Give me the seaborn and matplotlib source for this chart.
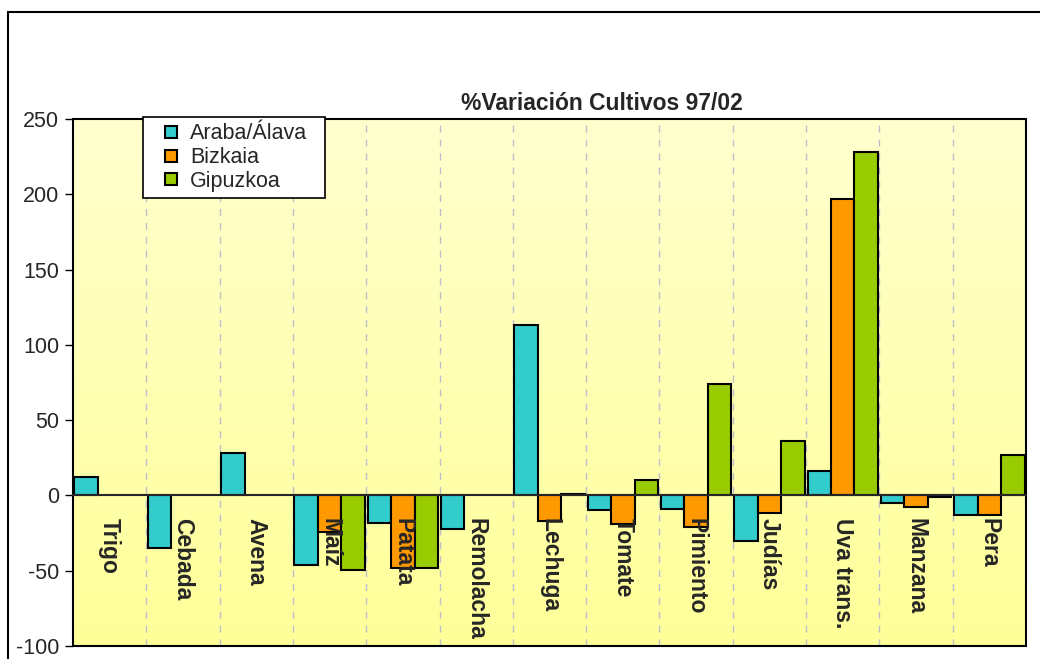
import numpy as np
import pandas as pd
import seaborn as sns
import matplotlib.pyplot as plt
from matplotlib.colors import LinearSegmentedColormap
from matplotlib.patches import Rectangle
from matplotlib.lines import Line2D

cultivos = ["Trigo", "Cebada", "Avena", "Maíz", "Patata", "Remolacha", "Lechuga",
            "Tomate", "Pimiento", "Judías", "Uva trans.", "Manzana", "Pera"]
araba = [12.5, -35, 28, -46, -18, -22, 113, -10, -9, -30, 16.5, -5, -13]
bizkaia = [np.nan, np.nan, np.nan, -24, -48, np.nan, -17, -19, -21, -12, 197, -8, -13]
gipuzkoa = [np.nan, np.nan, np.nan, -49.5, -48, np.nan, 1, 10, 74, 36, 228, -1, 27]
provincias = ["Araba/Álava", "Bizkaia", "Gipuzkoa"]
colores = ["#33CCCC", "#FF9900", "#99CC00"]
yticks = [-100, -50, 0, 50, 100, 150, 200, 250]

df = pd.DataFrame({
    "cultivo": cultivos * 3,
    "valor": araba + bizkaia + gipuzkoa,
    "provincia": [p for p in provincias for _ in cultivos],
})

sns.set_style("white")
plt.rcParams["font.family"] = ["Liberation Sans", "DejaVu Sans"]
plt.rcParams["axes.unicode_minus"] = False

fig = plt.figure(figsize=(10.4, 6.59), dpi=100)
ax = fig.add_axes([73 / 1040, 13 / 659, 953 / 1040, 527 / 659])

# fondo degradado
cmap = LinearSegmentedColormap.from_list("amarillo", ["#FFFF99", "#FFFFCF"])
ax.imshow(np.linspace(0, 1, 256).reshape(-1, 1), cmap=cmap, origin="lower",
          extent=[0, 1, 0, 1], transform=ax.transAxes, aspect="auto", zorder=0)

# separadores de categoria
for b in np.arange(len(cultivos) - 1) + 0.5:
    ax.axvline(b, color="#BDBDCC", linestyle=(0, (5, 5)), lw=1, zorder=1)

sns.barplot(data=df, x="cultivo", y="valor", hue="provincia", hue_order=provincias,
            palette=dict(zip(provincias, colores)), saturation=1, width=0.96,
            edgecolor="black", linewidth=1.5, ax=ax, zorder=3, legend=False)

ax.set_xlim(-0.5, len(cultivos) - 0.5)
ax.set_ylim(-100, 250)
ax.set_yticks(yticks)
ax.set_xlabel("")
ax.set_ylabel("")
ax.grid(False)

# eje x en el cero, etiquetas por encima de las barras
ax.spines["bottom"].set_position(("data", 0))
ax.spines["bottom"].set_linewidth(1.5)
ax.xaxis.set_zorder(6)
ax.spines["bottom"].set_zorder(6)
for s in ["top", "left", "right"]:
    ax.spines[s].set_color("black")
    ax.spines[s].set_linewidth(1.2)
ax.add_patch(Rectangle((0, 0), 1, 1, transform=ax.transAxes, fill=False,
                       edgecolor="black", lw=1.5, zorder=5, clip_on=False))

ax.tick_params(axis="x", which="major", direction="out", length=6, width=1, color="black",
               labelsize=16.5, labelrotation=270, pad=10)
ax.tick_params(axis="y", direction="out", length=6, width=1, color="black",
               labelsize=15.5, pad=4, left=True)
for lbl in ax.get_xticklabels():
    lbl.set_fontweight("bold")

handles = [Line2D([], [], linestyle="none", marker="s", markersize=9, markerfacecolor=c,
                  markeredgecolor="black", markeredgewidth=1.5) for c in colores]
leg = ax.legend(handles, provincias, loc="upper left", mode="expand",
                bbox_to_anchor=(143 / 1040, 1 - 200 / 659, 182 / 1040, 83 / 659),
                bbox_transform=fig.transFigure, fancybox=False, edgecolor="black", framealpha=1,
                fontsize=15.5, handlelength=2.0, handletextpad=-0.1,
                borderpad=0.3, labelspacing=0.12, borderaxespad=0)
leg.get_frame().set_linewidth(1.2)
leg.set_zorder(7)

fig.text(602 / 1040, 1 - 103 / 659, "%Variación Cultivos 97/02", ha="center", va="center",
         fontsize=16.5, fontweight="bold")

# marco exterior
fig.patches.append(Rectangle((8 / 1040, -0.1), 1.2, 1 - 12 / 659 + 0.1,
                             transform=fig.transFigure, fill=False, edgecolor="black", lw=1.5))

fig.savefig("out.png", dpi=100)
